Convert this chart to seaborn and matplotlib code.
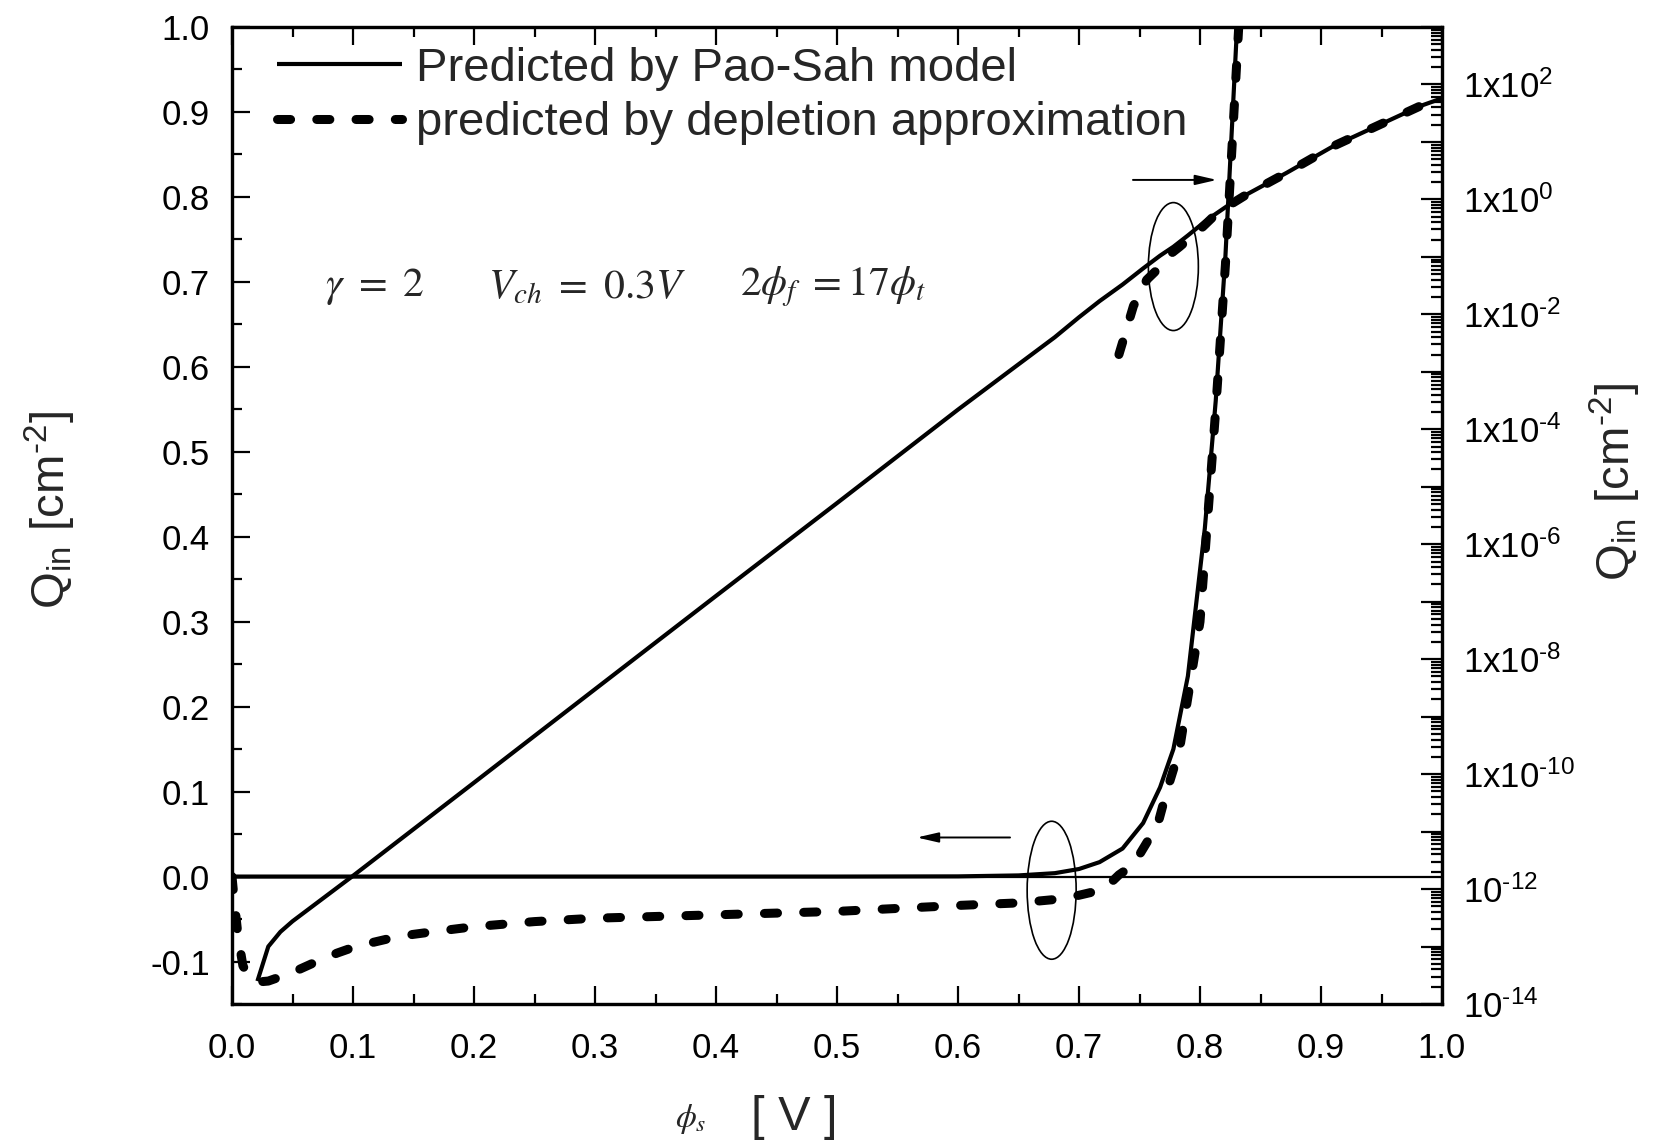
import numpy as np
import pandas as pd
import matplotlib
matplotlib.use("Agg")
import matplotlib.pyplot as plt
import seaborn as sns
from matplotlib.patches import Ellipse
from matplotlib.ticker import FixedLocator, MultipleLocator, FuncFormatter, LogLocator, NullFormatter

# ---------------- data ----------------
phi_paosah = [0.0, 0.021, 0.030, 0.040, 0.050, 0.100, 0.200, 0.300, 0.400, 0.500,
              0.600, 0.650, 0.680, 0.700, 0.717, 0.736, 0.753, 0.767, 0.778, 0.790,
              0.804, 0.813, 0.821, 0.8306, 0.8386, 0.8717, 0.9102, 0.9432, 0.9818, 1.000]
q_paosah = [0.0, 2.5e-14, 1.0e-13, 1.8e-13, 2.75e-13, 1.7e-12, 7.1e-11, 3.0e-9, 1.26e-7, 5.2e-6,
            2.2e-4, 1.35e-3, 4.0e-3, 8.9e-3, 0.017, 0.033, 0.063, 0.105, 0.150, 0.236,
            0.41, 0.56, 0.73, 1.0, 1.22, 2.91, 8.45, 17.7, 42.0, 57.5]

phi_depl = [0.0, 0.002, 0.005, 0.009, 0.015, 0.022, 0.030, 0.040, 0.056, 0.070,
            0.087, 0.103, 0.118, 0.136, 0.150, 0.166, 0.200, 0.250, 0.300, 0.400,
            0.500, 0.600, 0.650, 0.680, 0.700, 0.715, 0.725, 0.733, 0.745, 0.756,
            0.765, 0.772, 0.783, 0.800, 0.813, 0.821, 0.832, 0.8386, 0.8717, 0.9102,
            0.9432, 0.9818, 1.000]
q_depl = [0.0, -0.030, -0.070, -0.105, -0.120, -0.124, -0.123, -0.118, -0.109, -0.100,
          -0.090, -0.082, -0.077, -0.071, -0.068, -0.065, -0.059, -0.053, -0.049, -0.045,
          -0.041, -0.034, -0.031, -0.027, -0.022, -0.017, -0.009, 0.002, 0.014, 0.040,
          0.061, 0.098, 0.149, 0.30, 0.55, 0.72, 1.0, 1.22, 2.91, 8.45,
          17.7, 42.0, 57.5]

x_ticks = [0.0, 0.1, 0.2, 0.3, 0.4, 0.5, 0.6, 0.7, 0.8, 0.9, 1.0]
left_ticks = [-0.1, 0.0, 0.1, 0.2, 0.3, 0.4, 0.5, 0.6, 0.7, 0.8, 0.9, 1.0]
right_decades = list(range(-14, 4))

legend_labels = ["Predicted by Pao-Sah model", "predicted by depletion approximation"]

HY = "\u2010"  # short hyphen used in superscripts

# ---------------- style ----------------
sns.set_theme(style="ticks")
plt.rcParams["font.family"] = ["Liberation Sans", "DejaVu Sans"]
plt.rcParams["mathtext.fontset"] = "stix"
plt.rcParams["axes.unicode_minus"] = False

W, H = 1657, 1146
fig = plt.figure(figsize=(W / 100, H / 100), dpi=100)
ax = fig.add_axes([232 / W, 1 - 1004 / H, 1210 / W, 977 / H])
ax.set_facecolor("white")
ax2 = ax.twinx()
ax2.set_yscale("log")

solid_kw = dict(color="black", lw=3.0, solid_capstyle="butt")
dash_kw = dict(color="black", lw=6.5, linestyle=(0, (1.45, 2.9)), dash_capstyle="round")

df_ps = pd.DataFrame({"phi": phi_paosah, "Q": q_paosah})
df_dp = pd.DataFrame({"phi": phi_depl, "Q": q_depl})
df_ps_log = df_ps.assign(Q=df_ps["Q"].where(df_ps["Q"] > 0))
df_dp_log = df_dp.assign(Q=df_dp["Q"].where(df_dp["Q"] > 0))

# left (linear) axis
ax.axhline(0, color="black", lw=1.6, zorder=1)
sns.lineplot(data=df_ps, x="phi", y="Q", ax=ax, estimator=None, sort=False,
             legend=False, zorder=3, **solid_kw)
sns.lineplot(data=df_dp, x="phi", y="Q", ax=ax, estimator=None, sort=False,
             legend=False, zorder=4, **dash_kw)
h_solid, h_dash = ax.get_lines()[1], ax.get_lines()[2]

# right (log) axis
sns.lineplot(data=df_ps_log, x="phi", y="Q", ax=ax2, estimator=None, sort=False,
             legend=False, zorder=3, **solid_kw)
sns.lineplot(data=df_dp_log, x="phi", y="Q", ax=ax2, estimator=None, sort=False,
             legend=False, zorder=4, **dash_kw)

ax.set_xlim(0, 1.0)
ax.set_ylim(-0.15, 1.0)
ax2.set_ylim(1e-14, 1e3)

# ---------------- ticks ----------------
ax.xaxis.set_major_locator(FixedLocator(x_ticks))
ax.xaxis.set_minor_locator(MultipleLocator(0.05))
ax.yaxis.set_major_locator(FixedLocator(left_ticks))
ax.yaxis.set_minor_locator(MultipleLocator(0.05))
ax.xaxis.set_major_formatter(FuncFormatter(lambda v, p: f"{v:.1f}"))
ax.yaxis.set_major_formatter(FuncFormatter(lambda v, p: f"{v:.1f}"))

ax.tick_params(axis="both", which="both", direction="in", width=1.6, colors="black",
               labelsize=25, top=True, right=False)
ax.tick_params(axis="both", which="major", length=13)
ax.tick_params(axis="both", which="minor", length=7)
ax.tick_params(axis="x", which="both", pad=20)
ax.tick_params(axis="y", which="both", pad=16)

ax2.yaxis.set_major_locator(FixedLocator([10.0 ** e for e in right_decades]))
ax2.yaxis.set_minor_locator(LogLocator(base=10, subs=np.arange(2, 10), numticks=100))
ax2.yaxis.set_minor_formatter(NullFormatter())


def right_fmt(v, pos):
    e = int(round(np.log10(v)))
    if e % 2 != 0 or e > 2:
        return ""
    es = str(e).replace("-", HY)
    if e >= -10:
        return r"$\mathregular{1x10^{%s}}$" % es
    return r"$\mathregular{10^{%s}}$" % es


ax2.yaxis.set_major_formatter(FuncFormatter(right_fmt))
ax2.tick_params(axis="y", which="both", direction="in", width=1.6, colors="black",
                labelsize=25, left=False, right=True, pad=15)
ax2.tick_params(axis="y", which="major", length=15)
ax2.tick_params(axis="y", which="minor", length=8)

for a in (ax, ax2):
    for s in a.spines.values():
        s.set_linewidth(2.3)
        s.set_color("black")
        s.set_visible(True)

# ---------------- labels ----------------
ylab = r"Q$_{\mathregular{in}}$ [cm$^{\mathregular{%s2}}$]" % HY
ax.set_xlabel("")
ax.set_ylabel(ylab, fontsize=34)
ax.yaxis.set_label_coords(-0.127, 0.506)
ax2.set_ylabel(ylab, fontsize=34)
ax2.yaxis.set_label_coords(1.121, 0.535)

ax.text(0.465, -0.116, "[ V ]", transform=ax.transAxes, fontsize=35,
        ha="center", va="center")
ax.text(0.379, -0.118, r"$\phi_s$", transform=ax.transAxes, fontsize=24,
        ha="center", va="center")

# parameter annotation
ax.text(0.077, 0.694, r"$\gamma\ =\ 2$", fontsize=30, ha="left", va="center")
ax.text(0.2116, 0.694, r"$V_{ch}\ =\ 0.3V$", fontsize=30, ha="left", va="center")
ax.text(0.42, 0.694, r"$2\phi_f\ {=}17\phi_t$", fontsize=30, ha="left", va="center")

# ellipses and arrows
ax.add_patch(Ellipse((0.778, 0.718), 0.0413, 0.1506, fill=False, ec="black", lw=1.2, zorder=5))
ax.add_patch(Ellipse((0.6774, -0.0161), 0.0405, 0.1624, fill=False, ec="black", lw=1.2, zorder=5))
arrow_style = "-|>,head_length=0.65,head_width=0.15"
ax.annotate("", xy=(0.814, 0.82), xytext=(0.7446, 0.82),
            arrowprops=dict(arrowstyle=arrow_style, lw=1.4, color="black",
                            mutation_scale=20, shrinkA=0, shrinkB=0))
ax.annotate("", xy=(0.566, 0.046), xytext=(0.643, 0.046),
            arrowprops=dict(arrowstyle=arrow_style, lw=1.4, color="black",
                            mutation_scale=20, shrinkA=0, shrinkB=0))

# legend
ax.legend(handles=[h_solid, h_dash], labels=legend_labels, loc="upper left",
          bbox_to_anchor=(0.037, 0.98), frameon=False, fontsize=34,
          handlelength=2.65, handletextpad=0.3, labelspacing=0.23,
          borderpad=0, borderaxespad=0)

fig.savefig("out.png", dpi=100, facecolor="white")
